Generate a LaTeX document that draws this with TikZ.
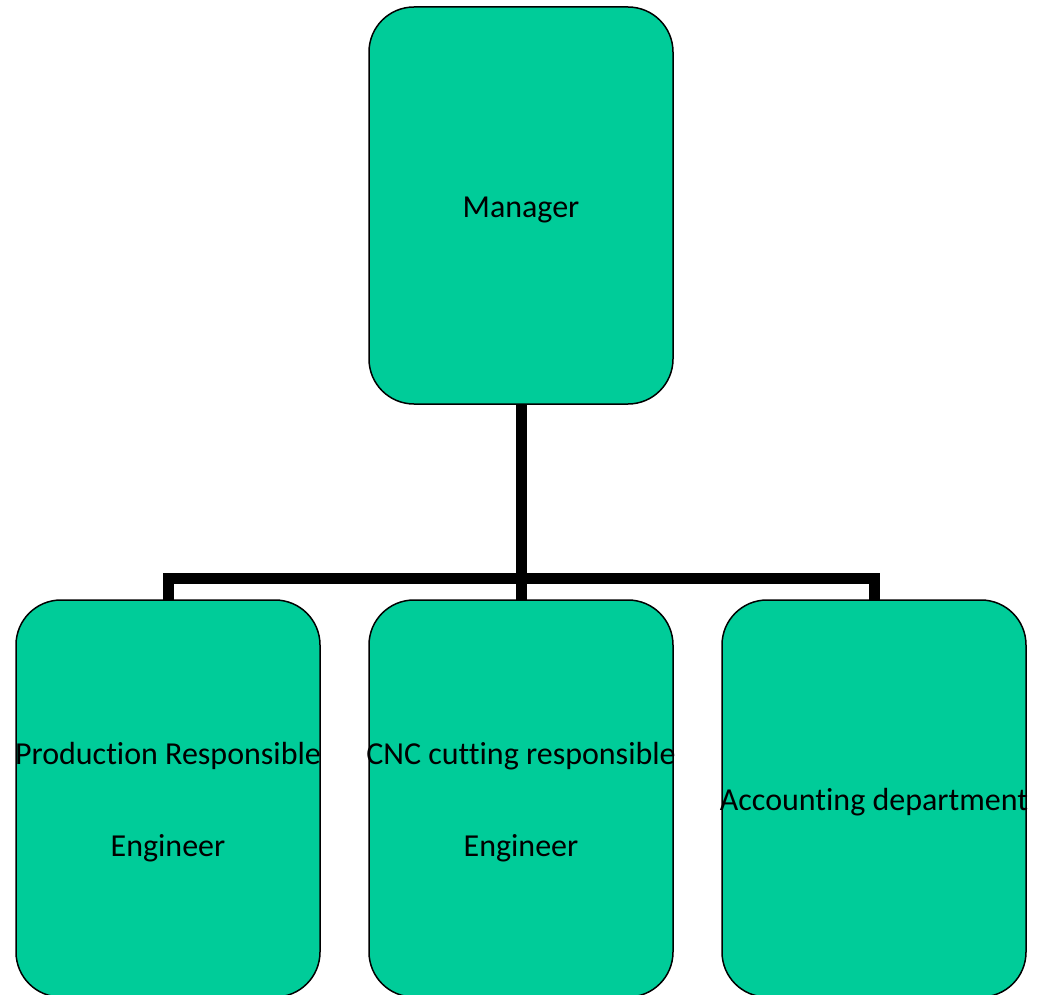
\documentclass[tikz,border=0pt]{standalone}
\usepackage{fontspec}
\setmainfont{Carlito}[Ligatures=NoCommon]
\usepackage{tikz}
\usetikzlibrary{positioning}
\definecolor{boxgreen}{RGB}{0,204,153}

\begin{document}
\begin{tikzpicture}[x=1pt,y=-1pt,
  main node/.style={rectangle,rounded corners=45pt,fill=boxgreen,draw=black,line width=1.5pt,
    minimum width=304pt,minimum height=397pt,inner sep=0pt,outer sep=0pt},
  box text/.style={align=center,inner sep=0pt,yshift=-4pt,font=\fontsize{32}{92}\selectfont},
  link/.style={line width=11pt}]
  \useasboundingbox (0,0) rectangle (1039,995);
  \node[main node,label={[box text]center:Manager}] (mgr) at (521,205.5) {};
  \node[main node,label={[box text]center:{CNC cutting responsible\\Engineer}}] (cnc) at (521,798.5) {};
  \node[main node,label={[box text]center:{Production Responsible\\Engineer}}] (prod) [left=49pt of cnc] {};
  \node[main node,label={[box text]center:Accounting department}] (acct) [right=49pt of cnc] {};
  \coordinate (bar) at (521,578);

  % tree links
  \draw[link] (mgr.south) -- (cnc.north);
  \draw[link] (prod.north) |- (bar) -| (acct.north);
\end{tikzpicture}
\end{document}
